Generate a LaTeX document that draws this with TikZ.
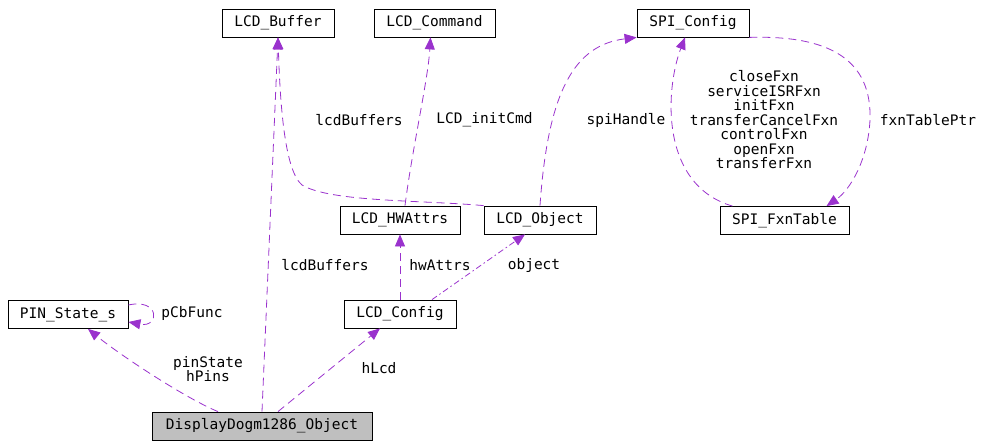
\documentclass[tikz,border=0pt]{standalone}
\usepackage{fontspec}
\setmonofont{DejaVu Sans Mono}
\usetikzlibrary{arrows.meta}
\definecolor{edgec}{HTML}{9A32CD}
\definecolor{rootfill}{HTML}{BFBFBF}
\begin{document}
\begin{tikzpicture}[x=1pt,y=-1pt,
  box/.style={draw=black, line width=0.8pt, fill=white, minimum height=28pt, inner sep=0pt, font=\ttfamily\fontsize{14.5}{14.5}\selectfont},
  lbl/.style={font=\ttfamily\fontsize{14.5}{14.5}\selectfont, align=center, inner sep=0pt},
  rel/.style={draw=edgec, line width=0.8pt, dash pattern=on 8pt off 5pt, -{Triangle[length=12pt,width=10pt]}, fill=none},
  reldd/.style={rel, dash pattern=on 6pt off 3pt on 1.5pt off 3pt}]
\useasboundingbox (0,0) rectangle (991,447);

% nodes
\node[box, minimum width=112pt] (buf) at (278,23) {LCD\_Buffer};
\node[box, minimum width=121pt] (cmd) at (434.5,23) {LCD\_Command};
\node[box, minimum width=112pt] (spi) at (693,23) {SPI\_Config};
\node[box, minimum width=129pt] (ft) at (784.5,220.5) {SPI\_FxnTable};
\node[box, minimum width=120pt] (hw) at (400,220) {LCD\_HWAttrs};
\node[box, minimum width=112pt] (obj) at (540,220) {LCD\_Object};
\node[box, minimum width=112pt] (cfg) at (400,314) {LCD\_Config};
\node[box, minimum width=120pt] (pin) at (68,314.5) {PIN\_State\_s};
\node[box, minimum width=220pt, fill=rootfill] (disp) at (262,426) {DisplayDogm1286\_Object};

% edges
\draw[rel] ([xshift=-44pt]disp.north) .. controls (185,398) and (120,355) .. ([xshift=20pt]pin.south);
\draw[rel] (disp.north) -- (buf.south);
\draw[rel] (obj.north west) .. controls (420,200) and (330,202) .. (302,185) .. controls (284,170) and (280,100) .. (buf.south);
\draw[rel] ([xshift=5pt]hw.north) .. controls (412,150) and (428,80) .. ([xshift=-4pt]cmd.south);
\draw[rel] (obj.north) .. controls (548,90) and (575,45) .. (spi.south west);
\draw[rel] ([xshift=-52pt]ft.north) .. controls (660,185) and (665,90) .. ([xshift=-8pt]spi.south);
\draw[rel] (spi.south east) .. controls (830,35) and (872,60) .. (870,120) .. controls (868,160) and (850,190) .. ([xshift=42pt]ft.north);
\draw[rel] (cfg.north) -- (hw.south);
\draw[reldd] ([xshift=32pt]cfg.north) -- ([xshift=-15pt]obj.south);
\draw[rel] ([xshift=16pt]disp.north) -- ([xshift=-20pt]cfg.south);
\draw[rel] ([yshift=9.5pt]pin.east) .. controls (160,298) and (160,328) .. ([yshift=-7.5pt]pin.east);

% labels
\node[lbl] (l1) at (208,369) {pinState\\hPins};
\node[lbl] (l2) at (379,368) {hLcd};
\node[lbl] (l3) at (325,265) {lcdBuffers};
\node[lbl] (l4) at (440,265) {hwAttrs};
\node[lbl] (l5) at (534,265) {object};
\node[lbl] (l6) at (359,120) {lcdBuffers};
\node[lbl] (l7) at (484.5,120) {LCD\_initCmd};
\node[lbl] (l8) at (626,120) {spiHandle};
\node[lbl] (l9) at (764,120) {closeFxn\\serviceISRFxn\\initFxn\\transferCancelFxn\\controlFxn\\openFxn\\transferFxn};
\node[lbl] (l10) at (928,120) {fxnTablePtr};
\node[lbl] (l11) at (192,313) {pCbFunc};
\end{tikzpicture}
\end{document}
